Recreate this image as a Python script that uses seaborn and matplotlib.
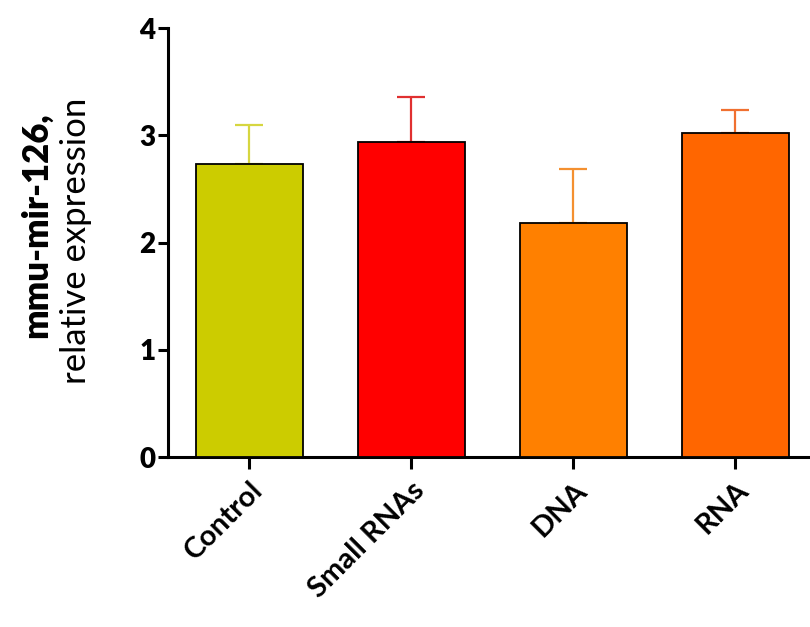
import numpy as np
import pandas as pd
import seaborn as sns
import matplotlib
matplotlib.use("Agg")
import matplotlib.pyplot as plt

groups = ["Control", "Small RNAs", "DNA", "RNA"]
means = [2.73, 2.94, 2.18, 3.02]
errors = [0.37, 0.42, 0.51, 0.22]
bar_colors = ["#CCCC00", "#FF0000", "#FF8000", "#FF6600"]
err_colors = ["#D6D640", "#E03030", "#F49030", "#F07030"]
yticks = [0, 1, 2, 3, 4]

sns.set_theme(style="ticks")
plt.rcParams["font.family"] = ["Lato", "DejaVu Sans"]

df = pd.DataFrame({"group": groups, "value": means})

fig = plt.figure(figsize=(8.1, 6.27), dpi=100)
ax = fig.add_axes([0.2074, 0.2711, 0.7926, 0.684])

sns.barplot(data=df, x="group", y="value", hue="group", palette=bar_colors,
            order=groups, hue_order=groups, legend=False, errorbar=None,
            width=0.66, edgecolor="black", linewidth=1.3, saturation=1, ax=ax,
            zorder=3)

for i, (m, e, c) in enumerate(zip(means, errors, err_colors)):
    ax.errorbar(i, m, yerr=[[0], [e]], fmt="none", ecolor=c, elinewidth=1.6,
                capsize=10, capthick=1.6, zorder=2)

ax.set_xlim(-0.5, 3.46)
ax.set_ylim(0, 4)
ax.set_yticks(yticks)
ax.set_yticklabels([str(t) for t in yticks], fontsize=20, fontweight="heavy")
ax.set_xticks(range(len(groups)))
ax.set_xticklabels(groups, fontsize=21, fontweight="bold", rotation=45,
                   ha="right", rotation_mode="anchor")
ax.set_xlabel("")
ax.set_ylabel("")

for side in ["top", "right"]:
    ax.spines[side].set_visible(False)
for side in ["left", "bottom"]:
    ax.spines[side].set_linewidth(2.2)
    ax.spines[side].set_color("black")
ax.tick_params(axis="y", length=7, width=2.2, pad=2, colors="black")
ax.tick_params(axis="x", length=8.5, width=2.2, pad=6, colors="black")

fig.text(36 / 810, 1 - 225 / 627, "mmu-mir-126,", rotation=90, fontsize=25,
         fontweight="heavy", ha="center", va="center", color="black")
fig.text(76 / 810, 1 - 241 / 627, "relative expression", rotation=90,
         fontsize=25, fontweight="normal", ha="center", va="center",
         color="black")

fig.savefig("out.png", dpi=100)
